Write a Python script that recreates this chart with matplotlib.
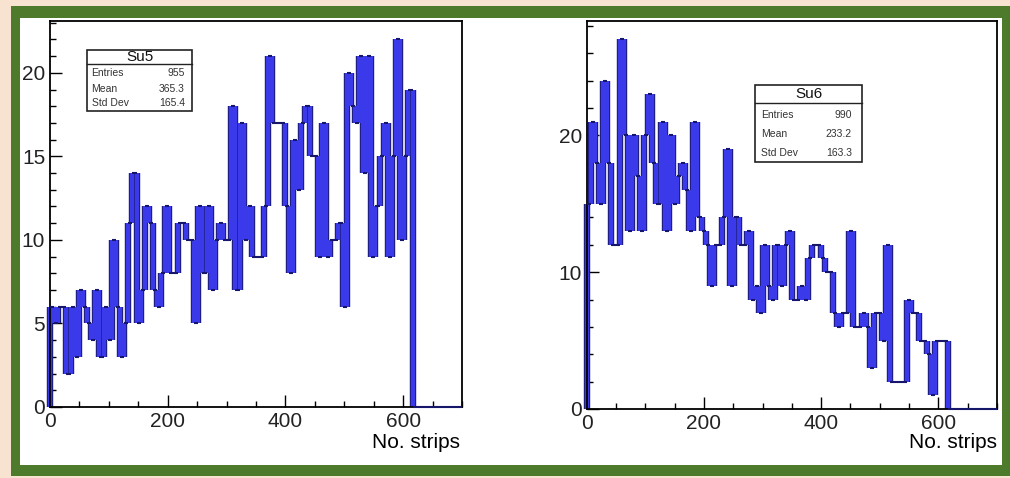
import numpy as np
import matplotlib.pyplot as plt
from matplotlib.patches import Rectangle
from matplotlib.ticker import MultipleLocator
from matplotlib import patheffects as pe

plt.rcParams['font.family'] = ['Liberation Sans', 'DejaVu Sans']

W, H = 1010, 478

# 100 bins of width 7 between 0 and 700 (counts)
bin_edges = np.arange(0, 701, 7)

su5_counts = [6, 5, 6, 6, 2, 6, 3, 7, 6, 5,
              4, 7, 3, 6, 4, 10, 6, 3, 5, 11,
              14, 5, 7, 12, 11, 7, 6, 8, 12, 8,
              8, 11, 11, 10, 10, 5, 12, 8, 12, 7,
              10, 11, 10, 10, 18, 7, 17, 10, 12, 9,
              9, 9, 12, 21, 17, 17, 17, 12, 8, 16,
              13, 17, 18, 15, 15, 9, 17, 9, 10, 10,
              11, 6, 20, 18, 17, 21, 14, 21, 9, 12,
              15, 17, 9, 15, 22, 10, 15, 19, 0, 0,
              0, 0, 0, 0, 0, 0, 0, 0, 0, 0]

su6_counts = [15, 21, 18, 15, 24, 18, 12, 12, 27, 20,
              13, 20, 17, 13, 20, 23, 18, 15, 21, 13,
              20, 15, 17, 18, 16, 13, 21, 14, 13, 12,
              9, 12, 12, 14, 19, 9, 14, 12, 12, 13,
              8, 9, 7, 12, 9, 8, 12, 9, 12, 13,
              8, 8, 9, 8, 11, 12, 12, 11, 10, 10,
              7, 6, 7, 7, 13, 6, 6, 7, 6, 3,
              7, 7, 5, 12, 2, 2, 2, 2, 8, 7,
              7, 5, 5, 4, 1, 5, 5, 5, 0, 0,
              0, 0, 0, 0, 0, 0, 0, 0, 0, 0]

stat_names = ["Entries", "Mean", "Std Dev"]
su5_stats = ["955", "365.3", "165.4"]
su6_stats = ["990", "233.2", "163.3"]

BLUE = '#3a3aea'
DARK = '#16166a'
GREEN = '#4e7a2c'
BEIGE = '#f8e2d0'


def px_rect(fig, x0, y0, x1, y1, **kw):
    # rectangle given in picture pixels (origin top left)
    return Rectangle((x0 / W, 1 - y1 / H), (x1 - x0) / W, (y1 - y0) / H,
                     transform=fig.transFigure, **kw)


def draw_hist(ax, counts, ymax, ymajor, yminor):
    counts = np.asarray(counts)
    left = np.r_[0, counts]
    right = np.r_[counts, 0]
    # ROOT outline: thick blue risers with dark rims, thin dark flats
    ax.vlines(bin_edges, np.minimum(left, right), np.maximum(left, right),
              colors=BLUE, lw=3.2, zorder=2, clip_on=False,
              path_effects=[pe.Stroke(linewidth=4.6, foreground=DARK), pe.Normal()])
    ax.hlines(counts, bin_edges[:-1], bin_edges[1:], colors=DARK, lw=1.5,
              zorder=3, clip_on=False)

    ax.set_xlim(0, 700)
    ax.set_ylim(0, ymax)
    ax.xaxis.set_major_locator(MultipleLocator(200))
    ax.xaxis.set_minor_locator(MultipleLocator(50))
    ax.yaxis.set_major_locator(MultipleLocator(ymajor))
    ax.yaxis.set_minor_locator(MultipleLocator(yminor))
    ax.tick_params(which='both', direction='in', top=False, right=False,
                   labelsize=15, pad=3.5, color='black', width=1.0,
                   labelcolor='#222222')
    ax.tick_params(which='major', length=8.5)
    ax.tick_params(which='minor', length=4.2)
    for s in ax.spines.values():
        s.set_linewidth(1.3)
        s.set_color('black')


def stats_box(fig, box, title, values, row_y, label_x, value_x, sep_y, title_y):
    x0, y0, x1, y1 = box
    fig.add_artist(px_rect(fig, x0, y0, x1, y1, facecolor='white',
                           edgecolor='#222222', lw=1.2, zorder=10))
    fig.add_artist(plt.Line2D([x0 / W, x1 / W], [1 - sep_y / H] * 2,
                              transform=fig.transFigure, color='#222222',
                              lw=1.0, zorder=11))
    fig.text((x0 + x1) / 2 / W, 1 - title_y / H, title, ha='center',
             va='center', fontsize=11, color='#111111', zorder=12)
    for name, val, y in zip(stat_names, values, row_y):
        fig.text(label_x / W, 1 - y / H, name, ha='left', va='center',
                 fontsize=7.5, color='#333333', zorder=12)
        fig.text(value_x / W, 1 - y / H, val, ha='right', va='center',
                 fontsize=7.5, color='#333333', zorder=12)


fig = plt.figure(figsize=(W / 100, H / 100), dpi=100)
fig.patch.set_facecolor(BEIGE)
fig.add_artist(px_rect(fig, 11, 6, 1010, 476, facecolor=GREEN, lw=0, zorder=0))
fig.add_artist(px_rect(fig, 20, 18, 1002, 465, facecolor='white', lw=0, zorder=0))

ax1 = fig.add_axes([50 / W, 1 - 407 / H, 412 / W, 386 / H])
draw_hist(ax1, su5_counts, 23.1, 5, 1)
ax2 = fig.add_axes([586.7 / W, 1 - 409 / H, 410.3 / W, 388 / H])
draw_hist(ax2, su6_counts, 28.35, 10, 2)

fig.text(460 / W, 1 - 443 / H, "No. strips", ha='right', va='center', fontsize=15)
fig.text(997 / W, 1 - 443 / H, "No. strips", ha='right', va='center', fontsize=15)

stats_box(fig, (87, 50, 192, 111), "Su5", su5_stats, [73.3, 89.3, 103.3],
          91.5, 185, 64, 57)
stats_box(fig, (755, 85, 862, 162), "Su6", su6_stats, [115, 134.3, 152.7],
          761, 852, 103.3, 94)

fig.savefig("out.png", dpi=100, facecolor=fig.get_facecolor())
